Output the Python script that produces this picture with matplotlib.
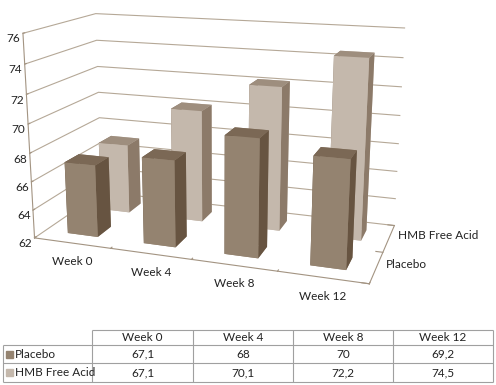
import numpy as np
import matplotlib.pyplot as plt
from matplotlib.patches import Rectangle

plt.rcParams['font.family'] = ['Lato', 'DejaVu Sans']

weeks = ['Week 0', 'Week 4', 'Week 8', 'Week 12']
series = ['Placebo', 'HMB Free Acid']
placebo = [67.1, 68, 70, 69.2]
hmb = [67.1, 70.1, 72.2, 74.5]
table_text = [['67,1', '68', '70', '69,2'],
              ['67,1', '70,1', '72,2', '74,5']]
z_ticks = [62, 64, 66, 68, 70, 72, 74, 76]

# face colours of bar3d: bottom, top, front(-y), back(+y), left(-x), right(+x)
placebo_faces = ['#948370', '#7b6855', '#948370', '#948370', '#675441', '#675441']
hmb_faces = ['#c4b8ac', '#9e8e7e', '#c4b8ac', '#c4b8ac', '#8c7a69', '#8c7a69']
key_colors = ['#948370', '#c4b8ac']
grid_col = '#b5a897'
line_col = '#a39482'
text_col = '#222222'

fig = plt.figure(figsize=(4.96, 3.85), dpi=100)
ax = fig.add_axes([-0.10, 0.21, 1.06, 0.86], projection='3d',
                  proj_type='persp', focal_length=0.5)

bw, bd = 0.4, 0.4
xs, ys, tops, cols = [], [], [], []
for j, vals in enumerate([placebo, hmb]):
    for i, v in enumerate(vals):
        xs.append(i - bw / 2)
        ys.append(j - bd / 2)
        tops.append(v - z_ticks[0])
        cols += placebo_faces if j == 0 else hmb_faces
ax.bar3d(xs, ys, [z_ticks[0]] * len(xs), bw, bd, tops, color=cols,
         shade=False, edgecolor='none')

ax.set_xlim(-0.5, len(weeks) - 0.5)
ax.set_ylim(-0.5, len(series) - 0.5)
ax.set_zlim(z_ticks[0], z_ticks[-1])
ax.set_box_aspect((3.75, 1.7, 2.3), zoom=1.25)
ax.view_init(elev=15, azim=-71)

for axis in (ax.xaxis, ax.yaxis, ax.zaxis):
    axis.set_pane_color((1, 1, 1, 0))
    axis.pane.set_edgecolor('none')
    axis.line.set_color(line_col)
    axis.line.set_linewidth(0.8)
    axis._axinfo['tick']['inward_factor'] = 0.0
    axis._axinfo['tick']['outward_factor'] = 0.25
for axis in (ax.xaxis, ax.yaxis):
    axis._axinfo['grid']['color'] = (1, 1, 1, 0)
ax.zaxis._axinfo['grid']['color'] = grid_col
ax.zaxis._axinfo['grid']['linewidth'] = 0.8
ax.zaxis.set_ticks_position('lower')

ax.set_xticks(np.arange(len(weeks) + 1) - 0.5)
ax.set_xticklabels([])
ax.set_yticks(np.arange(len(series) + 1) - 0.5)
ax.set_yticklabels([])
ax.set_zticks(z_ticks)
ax.set_zticklabels([str(t) for t in z_ticks], fontsize=8.5, color=text_col)
ax.tick_params(colors=line_col, labelcolor=text_col)
ax.tick_params(axis='z', pad=-5)

for i, w in enumerate(weeks):
    ax.text(i, -0.5, z_ticks[0] - 0.9, w, ha='center', va='top',
            fontsize=8.5, color=text_col)
for j, s in enumerate(series):
    ax.text(len(weeks) - 0.4, j, z_ticks[0] + 0.3, s, ha='left', va='center',
            fontsize=8.5, color=text_col)

# data table
tax = fig.add_axes([0, 0, 1, 1])
tax.set_xlim(0, 496)
tax.set_ylim(385, 0)
tax.axis('off')
col_edges = [92, 193, 293, 393, 493]
row_edges = [330, 345, 363, 382]
tcol = '#a0a0a0'
tax.hlines(row_edges[0], col_edges[0], col_edges[-1], color=tcol, lw=0.8)
tax.hlines(row_edges[1:], 3, col_edges[-1], color=tcol, lw=0.8)
tax.vlines(col_edges, row_edges[0], row_edges[-1], color=tcol, lw=0.8)
tax.vlines(3, row_edges[1], row_edges[-1], color=tcol, lw=0.8)
for c, w in enumerate(weeks):
    tax.text((col_edges[c] + col_edges[c + 1]) / 2, (row_edges[0] + row_edges[1]) / 2,
             w, ha='center', va='center', fontsize=8.5, color=text_col)
for r, s in enumerate(series):
    yc = (row_edges[r + 1] + row_edges[r + 2]) / 2
    tax.add_patch(Rectangle((6, yc - 3.5), 7, 7, color=key_colors[r]))
    tax.text(15, yc, s, ha='left', va='center', fontsize=8.5, color=text_col)
    for c in range(len(weeks)):
        tax.text((col_edges[c] + col_edges[c + 1]) / 2, yc, table_text[r][c],
                 ha='center', va='center', fontsize=8.5, color=text_col)

fig.savefig('out.png', dpi=100)
